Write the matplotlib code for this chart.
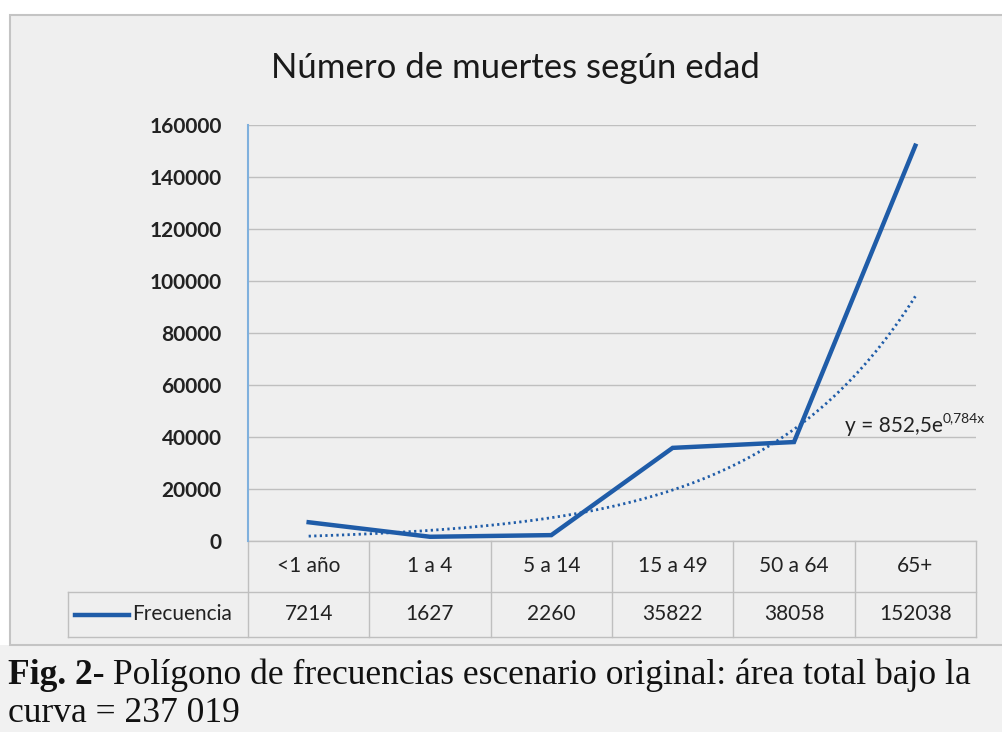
import numpy as np
import matplotlib
matplotlib.use("Agg")
import matplotlib.pyplot as plt
from matplotlib.patches import Rectangle

categorias = ["<1 año", "1 a 4", "5 a 14", "15 a 49", "50 a 64", "65+"]
frecuencia = [7214, 1627, 2260, 35822, 38058, 152038]
tend_a = 852.5
tend_b = 0.784
yticks = [0, 20000, 40000, 60000, 80000, 100000, 120000, 140000, 160000]

plt.rcParams['font.family'] = ['Lato', 'DejaVu Sans']
azul = '#1f5ca8'
gris = '#bfbfbf'
texto = '#222222'

fig = plt.figure(figsize=(10.02, 7.32), dpi=100)
fig.patch.set_facecolor('#f1f1f1')

# franja blanca arriba e izquierda, fondo gris del grafico
fig.patches.append(Rectangle((0, 1 - 15 / 732), 1, 15 / 732, transform=fig.transFigure,
                             facecolor='white', edgecolor='none', zorder=-2))
fig.patches.append(Rectangle((0, 1 - 645 / 732), 10 / 1002, 1, transform=fig.transFigure,
                             facecolor='white', edgecolor='none', zorder=-2))
fig.patches.append(Rectangle((10 / 1002, 1 - 645 / 732), 1.0, (645 - 15) / 732,
                             transform=fig.transFigure, facecolor='#efefef',
                             edgecolor='#c4c4c4', linewidth=1.5, zorder=-1))

ax = fig.add_axes([248 / 1002, 1 - 541 / 732, (976 - 248) / 1002, (541 - 125) / 732])
ax.set_facecolor('none')

x = np.arange(1, len(categorias) + 1)
ax.plot(x, frecuencia, color=azul, linewidth=3.2, solid_joinstyle='miter', zorder=4)

xt = np.linspace(1, 6, 200)
ax.plot(xt, tend_a * np.exp(tend_b * xt), color=azul, linewidth=2.0,
        linestyle=(0, (0.8, 1.2)), zorder=3)

ax.set_xlim(0.5, 6.5)
ax.set_ylim(0, 160000)
ax.set_yticks(yticks)
ax.set_yticklabels([str(v) for v in yticks], fontsize=15, color=texto,
                   fontweight='bold')
ax.tick_params(axis='y', length=0, pad=19)
ax.set_xticks([])
ax.grid(axis='y', color=gris, linewidth=1)
for s in ['top', 'right', 'bottom']:
    ax.spines[s].set_visible(False)
ax.spines['left'].set_color('#7fb0dd')
ax.spines['left'].set_linewidth(1.5)

# tabla de datos debajo del eje
alto = 416.0
r1 = -51 / alto
r2 = -96 / alto
xleg = 0.5 - 180 / ((976 - 248) / 6)
tr = ax.get_xaxis_transform()
kw = dict(color=gris, linewidth=1, transform=tr, clip_on=False)
ax.plot([0.5, 6.5], [0, 0], **kw)
ax.plot([xleg, 6.5], [r1, r1], **kw)
ax.plot([xleg, 6.5], [r2, r2], **kw)
for b in np.arange(0.5, 7, 1):
    ax.plot([b, b], [0, r2], **kw)
ax.plot([xleg, xleg], [r1, r2], **kw)

for xi, cat, val in zip(x, categorias, frecuencia):
    ax.text(xi, r1 / 2, cat, transform=tr, ha='center', va='center',
            fontsize=15, color=texto)
    ax.text(xi, (r1 + r2) / 2, str(val), transform=tr, ha='center', va='center',
            fontsize=15, color=texto)

ax.plot([xleg + 0.06, xleg + 0.5], [(r1 + r2) / 2] * 2, color=azul, linewidth=3.2,
        transform=tr, clip_on=False)
ax.text(xleg + 0.53, (r1 + r2) / 2, "Frecuencia", transform=tr, ha='left', va='center',
        fontsize=15, color=texto)

# etiqueta de la tendencia
et = ax.text(5.42, 40500, "y = 852,5e", ha='left', va='bottom', fontsize=15,
             color=texto, zorder=5)
ax.annotate("0,784x", xy=(1, 0.6), xycoords=et, ha='left', va='bottom',
            fontsize=10, color=texto, annotation_clip=False)

fig.text(515 / 1002, 1 - 68 / 732, "Número de muertes según edad", ha='center',
         va='center', fontsize=25, color='#1a1a1a')

# pie de figura
pie = fig.text(8 / 1002, 1 - 676 / 732, "Fig. 2-", ha='left', va='center',
               fontsize=25.6, fontweight='bold', family='Liberation Serif', color='#111111')
ax.annotate(" Polígono de frecuencias escenario original: área total bajo la",
            xy=(1, 0), xycoords=pie, ha='left', va='bottom', fontsize=25.6,
            family='Liberation Serif', color='#111111', annotation_clip=False)
fig.text(8 / 1002, 1 - 713 / 732, "curva = 237 019", ha='left', va='center',
         fontsize=25.6, family='Liberation Serif', color='#111111')

fig.savefig("out.png", dpi=100)
